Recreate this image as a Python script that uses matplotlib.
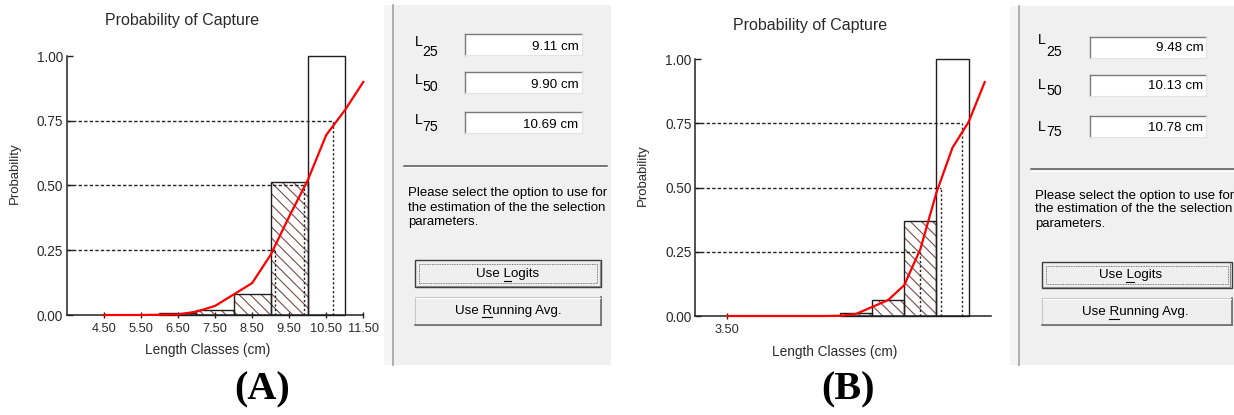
import matplotlib
matplotlib.use("Agg")
import matplotlib.pyplot as plt
from matplotlib.patches import Rectangle
from matplotlib.lines import Line2D

# ---------------- data ----------------
percentiles = [0.25, 0.50, 0.75]
pct_names = ["25", "50", "75"]
yticks = [0.0, 0.25, 0.50, 0.75, 1.00]
yticklabels = ["0.00", "0.25", "0.50", "0.75", "1.00"]

# Panel A
bar_low_a = [6, 7, 8, 9, 10]
bar_prob_a = [0.008, 0.018, 0.083, 0.515, 1.00]
bar_hatch_a = [True, True, True, True, False]
curve_x_a = [4.5, 5.5, 6.5, 7.0, 7.5, 8.5, 9.0, 9.5, 10.0, 10.5, 11.0, 11.5]
curve_y_a = [0.0, 0.0, 0.002, 0.013, 0.035, 0.123, 0.232, 0.38, 0.52, 0.695, 0.79, 0.90]
L_a = [9.11, 9.90, 10.69]
xticks_a = [4.5, 5.5, 6.5, 7.5, 8.5, 9.5, 10.5, 11.5]
xticklabels_a = ["4.50", "5.50", "6.50", "7.50", "8.50", "9.50", "10.50", "11.50"]

# Panel B
bar_low_b = [7, 8, 9, 10]
bar_prob_b = [0.012, 0.062, 0.37, 1.00]
bar_hatch_b = [True, True, True, False]
curve_x_b = [3.5, 4.5, 5.5, 6.5, 7.0, 7.5, 8.5, 9.0, 9.5, 10.0, 10.5, 11.0, 11.5]
curve_y_b = [0.0, 0.0, 0.0, 0.0, 0.001, 0.008, 0.062, 0.12, 0.26, 0.48, 0.655, 0.755, 0.91]
L_b = [9.48, 10.13, 10.78]
xticks_b = [3.5]
xticklabels_b = ["3.50"]

title_text = "Probability of Capture"
xlabel_text = "Length Classes (cm)"
ylabel_text = "Probability"
para_lines = ["Please select the option to use for",
              "the estimation of the the selection",
              "parameters."]

# ---------------- setup ----------------
W, H = 1234, 415
DPI = 100
plt.rcParams["font.family"] = ["Liberation Sans", "DejaVu Sans"]
plt.rcParams["hatch.linewidth"] = 0.8
fig = plt.figure(figsize=(W / DPI, H / DPI), dpi=DPI)
fig.patch.set_facecolor("white")
TXT = "#2a2a2a"


def X(px):
    return px / W


def Y(py):
    return 1 - py / H


def rect(x0, y0, x1, y1, fc, ec="none", lw=0, ls="-", z=-5):
    r = Rectangle((X(x0), Y(y1)), X(x1) - X(x0), Y(y0) - Y(y1), transform=fig.transFigure,
                  facecolor=fc, edgecolor=ec, linewidth=lw, linestyle=ls, zorder=z)
    fig.add_artist(r)


def line(x0, y0, x1, y1, c, lw=0.75, ls="-", z=-4):
    fig.add_artist(Line2D([X(x0), X(x1)], [Y(y0), Y(y1)], transform=fig.transFigure,
                          color=c, linewidth=lw, linestyle=ls, zorder=z))


def text(x, y, s, **kw):
    return fig.text(X(x), Y(y), s, **kw)


def plot_panel(ax_px, xlim, lows, probs, hatch, cx, cy, Ls, xt, xtl, title_px, xl_px, yl_px):
    x0, ytop, x1, ybot = ax_px
    ax = fig.add_axes([X(x0), Y(ybot), X(x1) - X(x0), Y(ytop) - Y(ybot)])
    ax.set_xlim(*xlim)
    ax.set_ylim(0, 1)
    ax.patch.set_alpha(0)
    for s in ["top", "right"]:
        ax.spines[s].set_visible(False)
    for s in ["left", "bottom"]:
        ax.spines[s].set_color("#222222")
        ax.spines[s].set_linewidth(1.1)
    hl = [l for l, h in zip(lows, hatch) if h]
    hp = [p for p, h in zip(probs, hatch) if h]
    ax.bar(hl, hp, width=1.0, align="edge", color="none", edgecolor="#7a4c4c",
           hatch="\\\\\\", linewidth=0, zorder=2)
    ax.bar(lows, probs, width=1.0, align="edge", color="none", edgecolor="#1e1e1e",
           linewidth=1.0, zorder=3, clip_on=False)
    for p, L in zip(percentiles, Ls):
        ax.plot([xlim[0], L], [p, p], color="#222222", lw=1.0, ls=(0, (2.4, 1.6)), zorder=4)
        ax.plot([L, L], [0, p], color="#222222", lw=1.0, ls=(0, (1.6, 1.6)), zorder=4)
    ax.plot(cx, cy, color="#ff0000", lw=1.6, zorder=6, clip_on=False, solid_joinstyle="round")
    ax.set_yticks(yticks)
    ax.set_yticklabels(yticklabels)
    ax.set_xticks(xt)
    ax.set_xticklabels(xtl)
    ax.tick_params(axis="y", direction="in", length=4, width=1.0, pad=2.5,
                   labelsize=9.8, labelcolor=TXT, color="#222222")
    ax.tick_params(axis="x", direction="inout", length=5, width=1.0, pad=3.0,
                   labelsize=9.2, labelcolor=TXT, color="#222222")
    wpx = x1 - x0
    hpx = ybot - ytop
    ax.text((title_px[0] - x0) / wpx, (ybot - title_px[1]) / hpx, title_text,
            transform=ax.transAxes, ha="center", va="center", fontsize=11.5, color=TXT)
    ax.set_xlabel(xlabel_text, fontsize=9.8, color=TXT)
    ax.xaxis.set_label_coords((xl_px[0] - x0) / wpx, (ybot - xl_px[1]) / hpx)
    ax.xaxis.label.set_va("center")
    ax.set_ylabel(ylabel_text, fontsize=9.5, color=TXT)
    ax.yaxis.set_label_coords((yl_px[0] - x0) / wpx, (ybot - yl_px[1]) / hpx)
    ax.yaxis.label.set_va("center")
    return ax


plot_panel((66.7, 56, 363.3, 315), (3.5, 11.5), bar_low_a, bar_prob_a, bar_hatch_a,
           curve_x_a, curve_y_a, L_a, xticks_a, xticklabels_a,
           (181.7, 20.7), (207.5, 350), (15, 173))
plot_panel((695, 59, 990.5, 316), (2.5, 11.68), bar_low_b, bar_prob_b, bar_hatch_b,
           curve_x_b, curve_y_b, L_b, xticks_b, xticklabels_b,
           (810, 25), (835, 351.7), (643, 175))

renderer = fig.canvas.get_renderer()


def underlined_button_text(cx, cy, before, key, after):
    full = before + key + after
    t = text(cx, cy, full, ha="center", va="center", fontsize=9.6, color="#000000")
    wfull = t.get_window_extent(renderer).width
    wpre = fig.text(0, 0, before + key, fontsize=9.6).get_window_extent(renderer).width
    wkey = fig.text(0, 0, key, fontsize=9.6).get_window_extent(renderer).width
    for tt in fig.texts[-2:]:
        tt.remove()
    left = cx - wfull / 2
    line(left + wpre - wkey, cy + 6.5, left + wpre, cy + 6.5, "#000000", lw=0.8, z=2)


def side_panel(p):
    y0, y1 = p["ytop"], 365
    rect(p["strip"][0], y0, p["strip"][1], y1, "#f5f5f5")
    line(p["vline"], y0, p["vline"], y1, "#a0a0a0", lw=1.2)
    rect(p["panel"][0], y0, p["panel"][1], y1, "#f0f0f0")
    for i in range(3):
        text(p["Lx"], p["Ly"][i], "L", ha="left", va="center", fontsize=10.2, color="#000000")
        text(p["sx"], p["sy"][i], pct_names[i], ha="left", va="center", fontsize=10.2, color="#000000")
        bx0, bx1 = p["box"]
        by0 = p["boxtop"][i]
        by1 = by0 + 21
        rect(bx0, by0, bx1, by1, "#ffffff", z=-3)
        line(bx0, by0, bx1, by0, "#7a7a7a", lw=1.0, z=-2)
        line(bx0, by0, bx0, by1, "#7a7a7a", lw=1.0, z=-2)
        line(bx0, by1, bx1, by1, "#e3e3e3", lw=0.8, z=-2)
        line(bx1, by0, bx1, by1, "#e3e3e3", lw=0.8, z=-2)
        text(p["valx"], p["valy"][i], "%.2f cm" % p["vals"][i], ha="right", va="center",
             fontsize=9.6, color="#000000")
    line(p["sep"][0], p["sepy"], p["sep"][1], p["sepy"], "#555555", lw=1.1)
    line(p["sep"][0], p["sepy"] + 1.3, p["sep"][1], p["sepy"] + 1.3, "#ffffff", lw=0.6)
    for i, s in enumerate(para_lines):
        text(p["parax"], p["paray"][i], s, ha="left", va="center", fontsize=9.5, color="#000000")
    # Logits button (default button)
    bx0, bx1 = p["btnx"]
    ly0, ly1 = p["logy"]
    rect(bx0, ly0, bx1, ly1, "#efefef", ec="#3c3c3c", lw=1.0, z=-3)
    line(bx0 + 1.5, ly1 - 1.5, bx1 - 1.5, ly1 - 1.5, "#8a8a8a", lw=0.8, z=-2)
    line(bx1 - 1.5, ly0 + 1.5, bx1 - 1.5, ly1 - 1.5, "#8a8a8a", lw=0.8, z=-2)
    rect(bx0 + 4, ly0 + 4, bx1 - 4, ly1 - 4, "none", ec="#555555", lw=0.6, ls=(0, (1, 1)), z=-2)
    underlined_button_text(p["logt"][0], p["logt"][1], "Use ", "L", "ogits")
    # Running avg button
    ry0, ry1 = p["runy"]
    rect(bx0, ry0, bx1, ry1, "#efefef", ec="#c8c8c8", lw=0.8, z=-3)
    line(bx0, ry1, bx1, ry1, "#6a6a6a", lw=1.2, z=-2)
    line(bx1, ry0, bx1, ry1, "#6a6a6a", lw=1.2, z=-2)
    line(bx0 + 1, ry0 + 1, bx1 - 1, ry0 + 1, "#ffffff", lw=0.8, z=-2)
    underlined_button_text(p["runt"][0], p["runt"][1], "Use ", "R", "unning Avg.")


side_panel(dict(ytop=4.7, strip=(383.5, 392), vline=392.8, panel=(393.6, 611),
                Lx=415.3, Ly=[42.5, 80.5, 120.5], sx=422.3, sy=[51.5, 86.8, 126.8],
                box=(465, 582), boxtop=[34.3, 72.0, 112.0], vals=L_a,
                valx=578.5, valy=[47.2, 85.0, 125.2],
                sep=(404, 607), sepy=165.7, parax=408.3, paray=[193.3, 207.7, 221.7],
                btnx=(415, 601), logy=(260, 287), runy=(297, 325),
                logt=(508, 274), runt=(508, 310.5)))
side_panel(dict(ytop=6, strip=(1010, 1018.3), vline=1019.3, panel=(1020.2, 1234),
                Lx=1038.3, Ly=[39.5, 85, 126.7], sx=1046, sy=[52.5, 91, 132.5],
                box=(1090, 1206), boxtop=[37.3, 75.0, 116.0], vals=L_b,
                valx=1203.3, valy=[48.3, 86.0, 128.3],
                sep=(1030.7, 1234), sepy=169.3, parax=1035, paray=[196, 209.3, 224],
                btnx=(1041.7, 1231.7), logy=(261.7, 288.3), runy=(298.3, 325),
                logt=(1130.3, 275), runt=(1135, 312.3)))

text(262, 390, "(A)", ha="center", va="center", fontsize=29, fontweight="bold",
     family=["Liberation Serif", "DejaVu Serif"], color="#000000")
text(848, 390, "(B)", ha="center", va="center", fontsize=29, fontweight="bold",
     family=["Liberation Serif", "DejaVu Serif"], color="#000000")

fig.savefig("out.png", dpi=DPI)
